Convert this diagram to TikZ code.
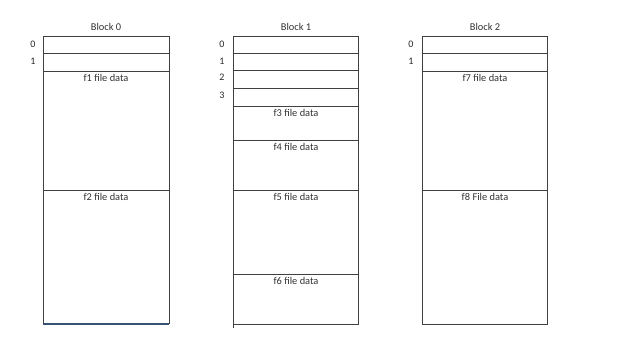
\documentclass[tikz,border=0pt]{standalone}
\usepackage{fontspec}
\setmainfont{Carlito}
\usepackage{tikz}
\usetikzlibrary{positioning}
\definecolor{edgeblue}{rgb}{0.22,0.32,0.45}

\begin{document}
\begin{tikzpicture}[x=1pt, y=-1pt,
    blk/.style={draw=black!75, line width=1pt},
    row/.style={draw=black!75, line width=1pt},
    lbl/.style={font=\fontsize{10.4}{12}\selectfont, text=black!80, inner sep=0pt},
    title/.style={font=\fontsize{10.4}{12}\selectfont, text=black!80, inner sep=0pt},
    idx/.style={font=\fontsize{10}{12}\selectfont, text=black!85, inner sep=0pt}]
        \useasboundingbox (0,0) rectangle (634,338);

        % Block 0
        \coordinate (b0nw) at (43,36);
        \coordinate (b0se) at (169,324);
        \draw[blk] (b0nw) -- (43,324) (169,324) -- (169,36) -- (b0nw);
        \draw[draw=edgeblue, line width=1.1pt] (43,324) -- (b0se);
        \node[title] (t0) at (106,27) {Block 0};
        \draw[row] (43,53) -- (169,53);
        \draw[row] (43,71) -- (169,71);
        \draw[row] (43,190) -- (169,190);
        \node[idx] (r00) at (33,44) {0};
        \node[idx] (r01) at (33,61) {1};
        \node[lbl, anchor=north] (f1) at (106,74) {f1 file data};
        \node[lbl, anchor=north] (f2) at (106,193) {f2 file data};

        % Block 1
        \coordinate (b1nw) at (233,36);
        \coordinate (b1se) at (358,324);
        \draw[blk] (b1nw) rectangle (b1se);
        \draw[blk] (233,324) -- (233,328);
        \node[title] (t1) at (296,27) {Block 1};
        \draw[row] (233,53) -- (358,53);
        \draw[row] (233,70) -- (358,70);
        \draw[row] (233,88) -- (358,88);
        \draw[row] (233,106) -- (358,106);
        \draw[row] (233,140) -- (358,140);
        \draw[row] (233,190) -- (358,190);
        \draw[row] (233,274) -- (358,274);
        \node[idx] (r10) at (222,44) {0};
        \node[idx] (r11) at (222,61) {1};
        \node[idx] (r12) at (222,77) {2};
        \node[idx] (r13) at (222,95) {3};
        \node[lbl, anchor=north] (f3) at (296,109) {f3 file data};
        \node[lbl, anchor=north] (f4) at (296,143) {f4 file data};
        \node[lbl, anchor=north] (f5) at (296,193) {f5 file data};
        \node[lbl, anchor=north] (f6) at (296,277) {f6 file data};

        % Block 2
        \coordinate (b2nw) at (422,36);
        \coordinate (b2se) at (547,324);
        \draw[blk] (b2nw) rectangle (b2se);
        \node[title] (t2) at (485,27) {Block 2};
        \draw[row] (422,53) -- (547,53);
        \draw[row] (422,71) -- (547,71);
        \draw[row] (422,190) -- (547,190);
        \node[idx] (r20) at (411,44) {0};
        \node[idx] (r21) at (411,61) {1};
        \node[lbl, anchor=north] (f7) at (485,74) {f7 file data};
        \node[lbl, anchor=north] (f8) at (485,193) {f8 File data};
    \end{tikzpicture}
\end{document}
